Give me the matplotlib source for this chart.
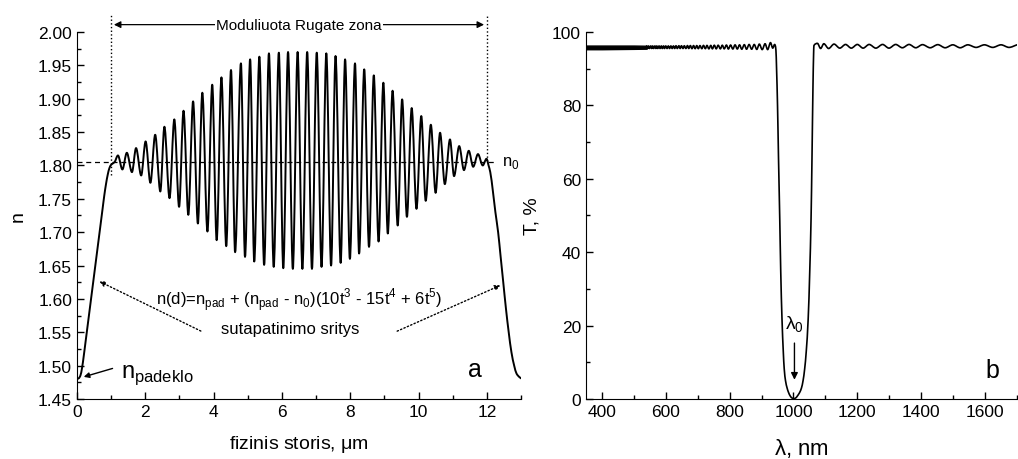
import numpy as np
import matplotlib.pyplot as plt
from matplotlib.path import Path
from matplotlib.patches import PathPatch
from matplotlib.ticker import MultipleLocator

plt.rcParams['font.family'] = ['Liberation Sans', 'DejaVu Sans']

# ---- panel a: refractive index profile ----
rise_x = [0.0, 0.05, 0.10, 0.15, 0.20, 0.25, 0.30, 0.35, 0.40, 0.45, 0.50, 0.55, 0.60,
          0.65, 0.70, 0.75, 0.80, 0.85, 0.90, 0.95, 1.00, 1.05, 1.10]
rise_n = [1.480, 1.481, 1.485, 1.497, 1.515, 1.535, 1.555, 1.575, 1.595, 1.615, 1.635,
          1.655, 1.675, 1.695, 1.715, 1.735, 1.755, 1.772, 1.786, 1.796, 1.801, 1.803, 1.805]

peak_x = [1.20, 1.46, 1.73, 2.01, 2.29, 2.56, 2.85, 3.12, 3.40, 3.67, 3.96, 4.23, 4.51,
          4.80, 5.07, 5.34, 5.62, 5.91, 6.18, 6.46, 6.74, 7.02, 7.30, 7.57, 7.85, 8.14,
          8.41, 8.69, 8.97, 9.24, 9.52, 9.80, 10.08, 10.36, 10.63, 10.92, 11.19, 11.47,
          11.74, 11.99]
peak_n = [1.815, 1.819, 1.826, 1.836, 1.846, 1.858, 1.869, 1.882, 1.896, 1.909, 1.921,
          1.932, 1.943, 1.953, 1.959, 1.963, 1.968, 1.969, 1.970, 1.970, 1.970, 1.969,
          1.968, 1.964, 1.959, 1.953, 1.944, 1.935, 1.924, 1.912, 1.899, 1.886, 1.874,
          1.861, 1.849, 1.839, 1.829, 1.822, 1.817, 1.810]

trough_x = [1.33, 1.61, 1.88, 2.15, 2.44, 2.71, 2.99, 3.26, 3.54, 3.82, 4.09, 4.37, 4.63,
            4.92, 5.19, 5.48, 5.76, 6.04, 6.32, 6.60, 6.88, 7.16, 7.44, 7.72, 7.99, 8.26,
            8.55, 8.83, 9.10, 9.39, 9.66, 9.94, 10.21, 10.50, 10.77, 11.04, 11.33, 11.60,
            11.88]
trough_n = [1.794, 1.790, 1.785, 1.774, 1.761, 1.751, 1.738, 1.726, 1.713, 1.701, 1.688,
            1.679, 1.670, 1.663, 1.656, 1.651, 1.648, 1.646, 1.645, 1.645, 1.645, 1.648,
            1.650, 1.654, 1.660, 1.668, 1.678, 1.686, 1.698, 1.710, 1.723, 1.735, 1.747,
            1.759, 1.772, 1.784, 1.793, 1.798, 1.800]

fall_x = [12.05, 12.10, 12.18, 12.25, 12.33, 12.40, 12.48, 12.56, 12.64, 12.72, 12.80,
          12.87, 12.95, 13.00]
fall_n = [1.800, 1.790, 1.760, 1.730, 1.700, 1.665, 1.625, 1.585, 1.550, 1.520, 1.500,
          1.488, 1.483, 1.481]

# ---- panel b: transmission spectrum ----
band_wl = [350, 400, 450, 500, 540]
band_lo = [95.3, 95.3, 95.35, 95.4, 95.45]
band_hi = [96.3, 96.3, 96.3, 96.3, 96.25]

lmax_wl = [540, 546, 553, 559, 566, 572, 579, 586, 593,
           600, 608, 616, 624, 632, 641, 649, 658, 668, 677, 687, 697, 707, 718, 729,
           741, 752, 764, 777, 790, 803, 817, 831, 846, 861, 877, 893, 911, 928, 941]
lmax_t = [96.2, 96.2, 96.2, 96.2, 96.2, 96.2, 96.2, 96.2, 96.2,
          96.2, 96.2, 96.2, 96.2, 96.25, 96.25, 96.25, 96.25, 96.3, 96.3, 96.3, 96.3,
          96.3, 96.35, 96.35, 96.35, 96.4, 96.4, 96.4, 96.45, 96.45, 96.5, 96.5, 96.55,
          96.6, 96.6, 96.7, 96.8, 97.1, 96.6]
lmin_wl = [543, 549, 556, 562, 569, 575, 582, 589, 596,
           604, 612, 620, 628, 636, 645, 654, 663, 672, 682, 692, 702, 713, 724, 735,
           746, 758, 771, 783, 796, 810, 824, 838, 853, 869, 885, 902, 919, 935]
lmin_t = [95.5, 95.5, 95.5, 95.5, 95.5, 95.5, 95.5, 95.5, 95.5,
          95.5, 95.5, 95.5, 95.5, 95.5, 95.5, 95.5, 95.5, 95.5, 95.45, 95.45, 95.45,
          95.45, 95.45, 95.4, 95.4, 95.4, 95.4, 95.4, 95.35, 95.35, 95.35, 95.3, 95.3,
          95.3, 95.25, 95.2, 95.2, 95.6]

dip_wl = [943, 945, 947, 950, 953, 957, 960, 964, 968, 971, 975, 980, 984, 990, 995,
          1001, 1007, 1012, 1016, 1020, 1025, 1030, 1035, 1040, 1046, 1051, 1055, 1058,
          1061, 1063, 1064]
dip_t = [96.3, 95.0, 90.0, 80.0, 66.0, 49.0, 35.0, 21.8, 13.0, 8.2, 5.0, 3.0, 1.9, 0.8,
         0.3, 0.1, 0.3, 0.8, 1.3, 1.9, 3.0, 5.0, 8.2, 13.0, 21.8, 35.0, 49.0, 66.0, 85.0,
         94.0, 96.3]

rmax_wl = [1075, 1095, 1127, 1163, 1200, 1237, 1279, 1320, 1362, 1404, 1452, 1499,
           1546, 1598, 1650, 1700]
rmax_t = [96.9, 96.8, 96.7, 96.6, 96.6, 96.6, 96.6, 96.6, 96.6, 96.55, 96.55, 96.5,
          96.5, 96.5, 96.5, 96.5]
rmin_wl = [1085, 1110, 1145, 1181, 1218, 1258, 1299, 1341, 1383, 1428, 1475, 1522,
           1572, 1624, 1675]
rmin_t = [95.5, 95.5, 95.6, 95.6, 95.6, 95.6, 95.6, 95.7, 95.7, 95.7, 95.7, 95.7,
          95.8, 95.8, 95.8]


def merge(*pairs):
    xs = np.concatenate([np.asarray(p[0], float) for p in pairs])
    ys = np.concatenate([np.asarray(p[1], float) for p in pairs])
    order = np.argsort(xs, kind='stable')
    return xs[order], ys[order]


def smooth_line(ax, x, y, lw=1.2):
    # draw the read-off points as one smooth curve (monotone cubic Bezier pieces)
    x = np.asarray(x, float)
    y = np.asarray(y, float)
    h = np.diff(x)
    dlt = np.diff(y) / h
    d = np.zeros_like(y)
    d[0], d[-1] = dlt[0], dlt[-1]
    for k in range(1, len(y) - 1):
        if dlt[k - 1] * dlt[k] > 0:
            w1 = 2 * h[k] + h[k - 1]
            w2 = h[k] + 2 * h[k - 1]
            d[k] = (w1 + w2) / (w1 / dlt[k - 1] + w2 / dlt[k])
    verts = [(x[0], y[0])]
    codes = [Path.MOVETO]
    for k in range(len(x) - 1):
        verts += [(x[k] + h[k] / 3, y[k] + d[k] * h[k] / 3),
                  (x[k + 1] - h[k] / 3, y[k + 1] - d[k + 1] * h[k] / 3),
                  (x[k + 1], y[k + 1])]
        codes += [Path.CURVE4] * 3
    ax.add_patch(PathPatch(Path(verts, codes), facecolor='none', edgecolor='black',
                           lw=lw, capstyle='round', joinstyle='round'))


prof_x, prof_n = merge((rise_x, rise_n), (peak_x, peak_n), (trough_x, trough_n), (fall_x, fall_n))
spec_wl, spec_t = merge((lmax_wl, lmax_t), (lmin_wl, lmin_t), (dip_wl, dip_t),
                        (rmax_wl, rmax_t), (rmin_wl, rmin_t))

fig = plt.figure(figsize=(10.18, 4.60), dpi=100)
ax1 = fig.add_axes([0.0756, 0.1304, 0.4362, 0.7979])
ax2 = fig.add_axes([0.5756, 0.1304, 0.4234, 0.7979])

for ax in (ax1, ax2):
    for s in ('top', 'right'):
        ax.spines[s].set_visible(False)
    ax.tick_params(which='both', direction='in', labelsize=12.5, width=1)
    ax.tick_params(which='major', length=5)
    ax.tick_params(which='minor', length=3)

# panel a
smooth_line(ax1, prof_x, prof_n, lw=1.4)
ax1.set_xlim(0, 13)
ax1.set_ylim(1.45, 2.00)
ax1.xaxis.set_major_locator(MultipleLocator(2))
ax1.xaxis.set_minor_locator(MultipleLocator(1))
ax1.yaxis.set_major_locator(MultipleLocator(0.05))
ax1.yaxis.set_minor_locator(MultipleLocator(0.025))
ax1.yaxis.set_major_formatter(plt.FormatStrFormatter('%.2f'))
ax1.set_xlabel(r'fizinis storis, $\mathregular{\mu}$m', fontsize=14, labelpad=10)
ax1.set_ylabel('n', fontsize=14, labelpad=8)

ax1.axhline(1.805, xmax=12.3 / 13, color='black', lw=0.9, ls=(0, (4, 3)))
ax1.plot([1.0, 1.0], [1.785, 2.025], color='black', lw=1, ls=':', clip_on=False)
ax1.plot([12.0, 12.0], [1.807, 2.025], color='black', lw=1, ls=':', clip_on=False)
ax1.annotate('', xy=(1.0, 2.011), xytext=(6.5, 2.011),
             arrowprops=dict(arrowstyle='-|>', color='black', lw=0.9, mutation_scale=10),
             annotation_clip=False)
ax1.annotate('', xy=(12.0, 2.011), xytext=(6.5, 2.011),
             arrowprops=dict(arrowstyle='-|>', color='black', lw=0.9, mutation_scale=10),
             annotation_clip=False)
ax1.text(6.5, 2.011, 'Moduliuota Rugate zona', ha='center', va='center', fontsize=11,
         bbox=dict(facecolor='white', edgecolor='none', pad=1), clip_on=False)
ax1.text(12.45, 1.805, r'n$_\mathregular{0}$', ha='left', va='center', fontsize=12)

ax1.text(6.5, 1.600, r'n(d)=n$_\mathregular{pad}$ + (n$_\mathregular{pad}$ - n$_\mathregular{0}$)'
         r'(10t$^\mathregular{3}$ - 15t$^\mathregular{4}$ + 6t$^\mathregular{5}$)',
         ha='center', va='center', fontsize=12)
ax1.text(6.25, 1.555, 'sutapatinimo sritys', ha='center', va='center', fontsize=12)
ax1.annotate('', xy=(0.585, 1.628), xytext=(3.70, 1.550),
             arrowprops=dict(arrowstyle='-|>', color='black', lw=1, ls=':', mutation_scale=8))
ax1.annotate('', xy=(12.47, 1.622), xytext=(9.30, 1.550),
             arrowprops=dict(arrowstyle='-|>', color='black', lw=1, ls=':', mutation_scale=8))
ax1.annotate('', xy=(0.12, 1.482), xytext=(1.12, 1.497),
             arrowprops=dict(arrowstyle='-|>', color='black', lw=1, mutation_scale=8))
ax1.text(1.3, 1.484, r'n$_\mathregular{padeklo}$', ha='left', va='baseline', fontsize=17)
ax1.text(11.45, 1.484, 'a', ha='left', va='baseline', fontsize=18)

# panel b
ax2.fill_between(band_wl, band_lo, band_hi, color='black', lw=1)
smooth_line(ax2, spec_wl, spec_t, lw=1.2)
ax2.set_xlim(350, 1700)
ax2.set_ylim(0, 100)
ax2.xaxis.set_major_locator(MultipleLocator(200))
ax2.xaxis.set_minor_locator(MultipleLocator(100))
ax2.yaxis.set_major_locator(MultipleLocator(20))
ax2.yaxis.set_minor_locator(MultipleLocator(10))
ax2.set_xlabel(r'$\mathregular{\lambda}$, nm', fontsize=16, labelpad=12)
ax2.set_ylabel('T, %', fontsize=14, labelpad=8)
ax2.text(1003, 18, r'$\mathregular{\lambda_0}$', ha='center', va='bottom', fontsize=14)
ax2.annotate('', xy=(1003, 4.5), xytext=(1003, 16),
             arrowprops=dict(arrowstyle='-|>', color='black', lw=1, mutation_scale=10))
ax2.text(1600, 6, 'b', ha='left', va='baseline', fontsize=18)

fig.savefig('out.png', dpi=100)
